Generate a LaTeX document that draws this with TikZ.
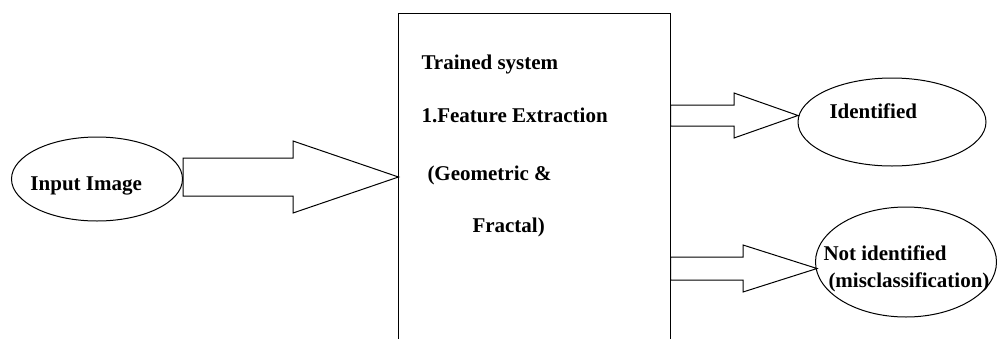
\documentclass[tikz,border=0pt]{standalone}
\usepackage{fontspec}
\setmainfont{Liberation Serif}
\usetikzlibrary{shapes.geometric,calc}
\begin{document}
\begin{tikzpicture}[x=1pt,y=-1pt,line width=1pt,
  ell/.style={draw,ellipse,inner sep=0pt},
  lbl/.style={anchor=base west,inner sep=0pt,font=\fontsize{21}{25}\selectfont\bfseries},
  barrow/.style={draw,line join=miter}]
\useasboundingbox (0,0) rectangle (997,338);
% shapes
\node[ell,minimum width=171pt,minimum height=84pt] (in) at (97,179) {};
\node[minimum width=271pt,minimum height=330pt,inner sep=0pt] (box) at (534.5,179) {};
\draw (box.south west) -- (box.north west) -- (box.north east) -- (box.south east);
\node[ell,minimum width=188pt,minimum height=88pt] (id) at (892,122) {};
\node[ell,minimum width=181pt,minimum height=110pt] (ni) at (906,262) {};
% texts
\node[lbl] (tin) at (30,190) {Input Image};
\node[lbl] (t1) at (421,69) {Trained system};
\node[lbl] (t2) at (421,122) {1.Feature Extraction};
\node[lbl] (t3) at (427,180) {(Geometric \&};
\node[lbl] (t4) at (472,232) {Fractal)};
\node[lbl] (tid) at (829,118) {Identified};
\node[lbl] (tni1) at (823,260) {Not identified};
\node[lbl] (tni2) at (828,287) {(misclassification)};
% block arrows
\coordinate (p1) at (box.west |- 0,177);
\draw[barrow] (in.east |- 0,158) -- (293,158) -- (293,141) -- (p1) -- (293,213) -- (293,196) -- (in.east |- 0,196) -- cycle;
\coordinate (p2) at (798,115.5);
\draw[barrow] (box.east |- 0,105) -- (734,105) -- (734,93) -- (p2) -- (734,138) -- (734,126) -- (box.east |- 0,126) -- cycle;
\coordinate (p3) at (817,268.5);
\draw[barrow] (box.east |- 0,257) -- (743,257) -- (743,245) -- (p3) -- (743,292) -- (743,280) -- (box.east |- 0,280) -- cycle;
\end{tikzpicture}
\end{document}
